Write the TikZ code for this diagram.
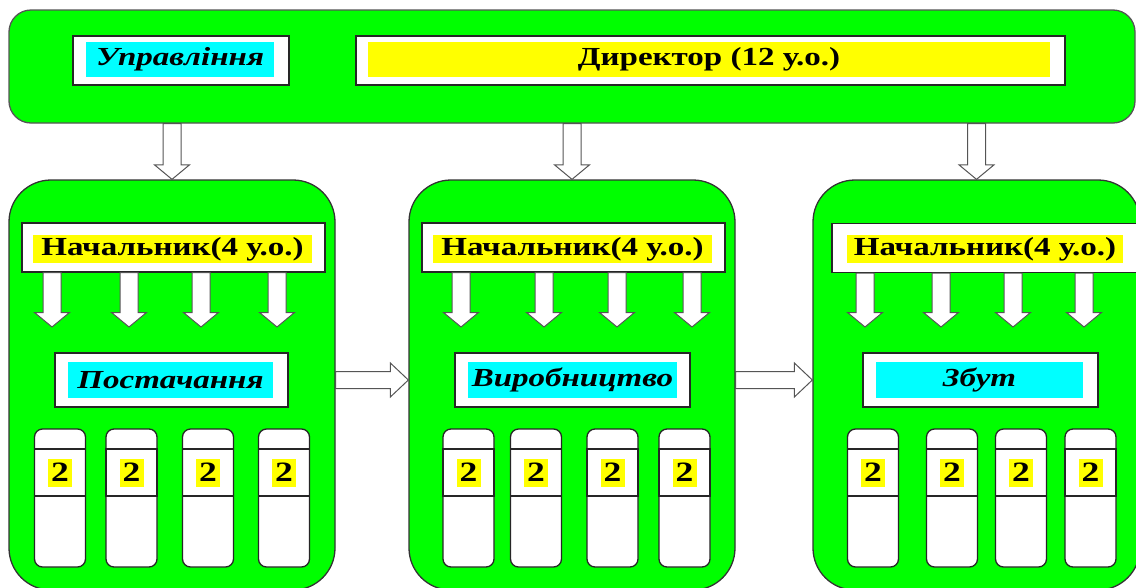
\documentclass[tikz,border=0pt]{standalone}
\usepackage{fontspec}
\setmainfont{Liberation Serif}[FakeStretch=1.27]
\usetikzlibrary{calc}
\definecolor{boxgreen}{RGB}{0,255,0}
\definecolor{hlyellow}{RGB}{255,255,0}
\definecolor{hlcyan}{RGB}{0,255,255}
\definecolor{linegray}{RGB}{85,85,85}
\begin{document}
\begin{tikzpicture}[x=1pt, y=-1pt, line width=1.3pt,
	band/.style = {draw=linegray, fill=boxgreen, rounded corners=22pt},
	unit/.style = {draw=black!80, fill=boxgreen, rounded corners=42pt, minimum width=326pt, minimum height=410pt},
	frame/.style = {draw=black!85, fill=white, inner sep=0pt, minimum height=49pt},
	hl/.style = {inner sep=0pt, font=\fontsize{26}{30}\selectfont\bfseries},
	yhl/.style = {hl, fill=hlyellow, minimum height=28pt},
	chl/.style = {hl, fill=hlcyan, minimum height=36pt, font=\fontsize{26}{30}\selectfont\bfseries\itshape},
	col/.style = {draw=black!85, fill=white, rounded corners=8pt, minimum width=51pt, minimum height=138pt},
	slot/.style = {draw=black!85, minimum width=51pt, minimum height=47pt},
	num/.style = {hl, fill=hlyellow, minimum width=24pt, minimum height=28pt, font=\fontsize{28}{30}\selectfont\bfseries},
	blockv/.style = {draw=linegray, fill=white, line width=1pt, to path={let \p1=(\tikztostart), \p2=(\tikztotarget) in
		(\x1-9pt,\y1) -- (\x1-9pt,\y2+14.5pt) -- (\x1-17.5pt,\y2+14.5pt) -- (\x1,\y2) -- (\x1+17.5pt,\y2+14.5pt) -- (\x1+9pt,\y2+14.5pt) -- (\x1+9pt,\y1) -- cycle}},
	blockh/.style = {draw=linegray, fill=white, line width=1pt, to path={let \p1=(\tikztostart), \p2=(\tikztotarget) in
		(\x1,\y1+8.5pt) -- (\x2-18pt,\y1+8.5pt) -- (\x2-18pt,\y1+17pt) -- (\x2,\y1) -- (\x2-18pt,\y1-17pt) -- (\x2-18pt,\y1-8.5pt) -- (\x1,\y1-8.5pt) -- cycle}}]
	\useasboundingbox (0,0) rectangle (1136,587);
	% top level
	\node[band, minimum width=1126pt, minimum height=113pt] (top) at (572,66.5) {};
	\node[frame, minimum width=216pt] (mgmt) at (181,60.5) {};
	\node[chl, minimum width=188pt, minimum height=35pt] (mgmtt) at (180,59.5) {Управління};
	\node[frame, minimum width=709pt] (dir) at (710.5,60.5) {};
	\node[yhl, minimum width=682pt, minimum height=35pt] (dirt) at (709,59.5) {Директор (12 у.о.)};
	% departments
	\node[unit] (unit1) at (172,385) {};
	\node[unit] (unit2) at (572,385) {};
	\node[unit, minimum width=327pt] (unit3) at (976.5,385) {};
	\node[frame, minimum width=303pt] (chief1) at (173.5,247.5) {};
	\node[yhl, minimum width=279pt] (chief1t) at (172.5,249) {Начальник(4 у.о.)};
	\node[frame, minimum width=303pt] (chief2) at (573.5,247.5) {};
	\node[yhl, minimum width=279pt] (chief2t) at (572.5,249) {Начальник(4 у.о.)};
	\node[frame, minimum width=310pt] (chief3) at (987,248) {};
	\node[yhl, minimum width=276pt] (chief3t) at (985,249) {Начальник(4 у.о.)};
	\node[frame, minimum width=233pt, minimum height=54pt] (dept1) at (171.5,380) {};
	\node[chl, minimum width=205pt] (dept1t) at (170.5,380) {Постачання};
	\node[frame, minimum width=235pt, minimum height=54pt] (dept2) at (572.5,380) {};
	\node[chl, minimum width=209pt] (dept2t) at (572.5,380) {Виробництво};
	\node[frame, minimum width=235pt, minimum height=54pt] (dept3) at (980.5,380) {};
	\node[chl, minimum width=207pt] (dept3t) at (979.5,380) {Збут};
	% staff columns
	\node[col] (c1a) at (60,498) {}; \node[slot] (s1a) at (60,472.5) {}; \node[num] (n1a) at (s1a) {2};
	\node[col] (c1b) at (131.5,498) {}; \node[slot] (s1b) at (131.5,472.5) {}; \node[num] (n1b) at (s1b) {2};
	\node[col] (c1c) at (208,498) {}; \node[slot] (s1c) at (208,472.5) {}; \node[num] (n1c) at (s1c) {2};
	\node[col] (c1d) at (284,498) {}; \node[slot] (s1d) at (284,472.5) {}; \node[num] (n1d) at (s1d) {2};
	\node[col] (c2a) at (468.5,498) {}; \node[slot] (s2a) at (468.5,472.5) {}; \node[num] (n2a) at (s2a) {2};
	\node[col] (c2b) at (536,498) {}; \node[slot] (s2b) at (536,472.5) {}; \node[num] (n2b) at (s2b) {2};
	\node[col] (c2c) at (612.5,498) {}; \node[slot] (s2c) at (612.5,472.5) {}; \node[num] (n2c) at (s2c) {2};
	\node[col] (c2d) at (684.5,498) {}; \node[slot] (s2d) at (684.5,472.5) {}; \node[num] (n2d) at (s2d) {2};
	\node[col] (c3a) at (873,498) {}; \node[slot] (s3a) at (873,472.5) {}; \node[num] (n3a) at (s3a) {2};
	\node[col] (c3b) at (952,498) {}; \node[slot] (s3b) at (952,472.5) {}; \node[num] (n3b) at (s3b) {2};
	\node[col] (c3c) at (1021,498) {}; \node[slot] (s3c) at (1021,472.5) {}; \node[num] (n3c) at (s3c) {2};
	\node[col] (c3d) at (1090.5,498) {}; \node[slot] (s3d) at (1090.5,472.5) {}; \node[num] (n3d) at (s3d) {2};
	% arrow ends
	\coordinate (a1a) at (52,327); \coordinate (a1b) at (129,327); \coordinate (a1c) at (201,327); \coordinate (a1d) at (277,327);
	\coordinate (a2a) at (461,327); \coordinate (a2b) at (544,327); \coordinate (a2c) at (617,327); \coordinate (a2d) at (692,327);
	\coordinate (a3a) at (865,327); \coordinate (a3b) at (941,327); \coordinate (a3c) at (1013,327); \coordinate (a3d) at (1084,327);
	\draw[blockv] (top.south -| unit1.north) to (unit1.north);
	\draw[blockv] (top.south -| unit2.north) to (unit2.north);
	\draw[blockv] (top.south -| unit3.north) to (unit3.north);
	\draw[blockh] (unit1.east |- dept1) to (unit2.west |- dept1);
	\draw[blockh] (unit2.east |- dept2) to (unit3.west |- dept2);
	\draw[blockv] (chief1.south -| a1a) to (a1a);
	\draw[blockv] (chief1.south -| a1b) to (a1b);
	\draw[blockv] (chief1.south -| a1c) to (a1c);
	\draw[blockv] (chief1.south -| a1d) to (a1d);
	\draw[blockv] (chief2.south -| a2a) to (a2a);
	\draw[blockv] (chief2.south -| a2b) to (a2b);
	\draw[blockv] (chief2.south -| a2c) to (a2c);
	\draw[blockv] (chief2.south -| a2d) to (a2d);
	\draw[blockv] (chief3.south -| a3a) to (a3a);
	\draw[blockv] (chief3.south -| a3b) to (a3b);
	\draw[blockv] (chief3.south -| a3c) to (a3c);
	\draw[blockv] (chief3.south -| a3d) to (a3d);
\end{tikzpicture}
\end{document}
